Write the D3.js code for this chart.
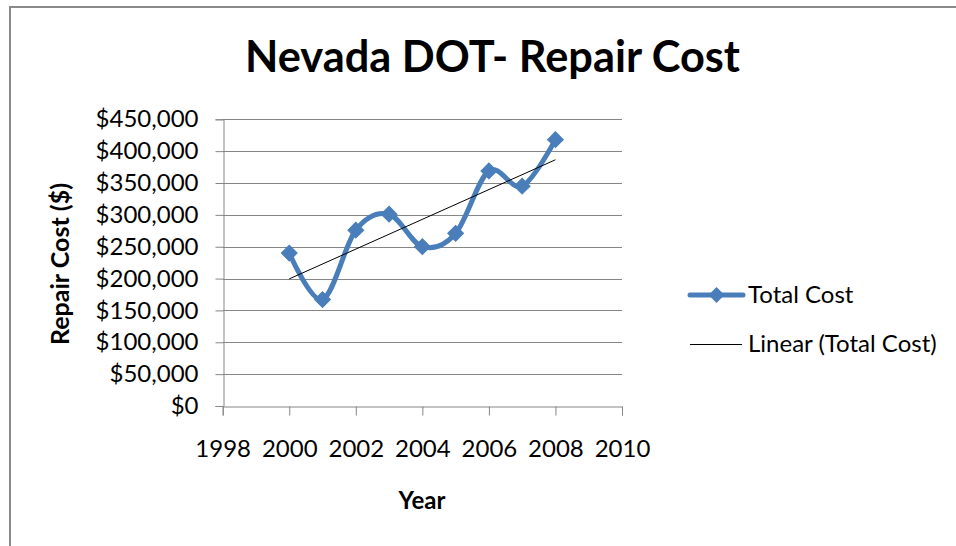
<!DOCTYPE html>
<html><head><meta charset="utf-8">
<script src="https://cdn.jsdelivr.net/npm/d3@7"></script>
<style>
html,body{margin:0;padding:0;background:#fff;}
svg{display:block;}
text{font-family:Lato,"Open Sans",sans-serif;fill:#000;}
</style></head>
<body>
<svg id="chart" width="956" height="546"></svg>
<script>
const years = [2000, 2001, 2002, 2003, 2004, 2005, 2006, 2007, 2008];
const totalCost = [240000, 167000, 276000, 301000, 250000, 271000, 369000, 345000, 418000];
const xTicks = [1998, 2000, 2002, 2004, 2006, 2008, 2010];
const yTicks = [0, 50000, 100000, 150000, 200000, 250000, 300000, 350000, 400000, 450000];
const titleText = "Nevada DOT- Repair Cost";
const xTitle = "Year";
const yTitle = "Repair Cost ($)";
const legendLabels = ["Total Cost", "Linear (Total Cost)"];

const svg = d3.select("#chart");
const blue = "#4A7EBB", grid = "#868686";

// outer frame
svg.append("path").attr("d", "M10,546 L10,7 L956,7")
  .attr("fill", "none").attr("stroke", "#8a8a8a").attr("stroke-width", 2);

const x = d3.scaleLinear().domain([1998, 2010]).range([222.7, 622]);
const y = d3.scaleLinear().domain([0, 450000]).range([406, 119.3]);

// gridlines
svg.append("g").selectAll("line").data(yTicks.filter(d => d > 0)).join("line")
  .attr("x1", x(1998)).attr("x2", x(2010))
  .attr("y1", d => Math.round(y(d)) + 0.5).attr("y2", d => Math.round(y(d)) + 0.5)
  .attr("stroke", grid).attr("stroke-width", 1);

const fmt = d => "$" + d3.format(",")(d);
// y axis
const ya = svg.append("g").attr("transform", `translate(${Math.round(x(1998)) + 0.5},0)`)
  .call(d3.axisLeft(y).tickValues(yTicks).tickFormat(fmt).tickSize(8).tickPadding(17));
ya.select(".domain").attr("stroke", grid);
ya.selectAll(".tick line").attr("stroke", grid);
ya.selectAll(".tick text").style("font-family", "Lato").style("font-size", "24px").attr("fill", "#000");

// x axis
const xa = svg.append("g").attr("transform", `translate(0,${Math.round(y(0)) + 0.5})`)
  .call(d3.axisBottom(x).tickValues(xTicks).tickFormat(d3.format("d")).tickSize(9).tickPadding(24));
xa.select(".domain").attr("stroke", grid);
xa.selectAll(".tick line").attr("stroke", grid);
xa.selectAll(".tick text").style("font-family", "Lato").style("font-size", "24px").attr("fill", "#000");

// trendline (least squares)
const mx = d3.mean(years), my = d3.mean(totalCost);
const slope = d3.sum(years, (d, i) => (d - mx) * (totalCost[i] - my)) / d3.sum(years, d => (d - mx) * (d - mx));
const icpt = my - slope * mx;
const x0 = years[0], x1 = years[years.length - 1];

// series line
const pts = years.map((d, i) => [d, totalCost[i]]);
const line = d3.line().x(d => x(d[0])).y(d => y(d[1])).curve(d3.curveCatmullRom.alpha(0));
svg.append("path").datum(pts).attr("d", line)
  .attr("fill", "none").attr("stroke", blue).attr("stroke-width", 5)
  .attr("stroke-linejoin", "round").attr("stroke-linecap", "round");

const marker = d3.symbol().type(d3.symbolSquare).size(125)();
svg.append("g").selectAll("path").data(pts).join("path")
  .attr("transform", d => `translate(${x(d[0])},${y(d[1])}) rotate(45)`)
  .attr("d", marker)
  .attr("fill", blue).attr("stroke", blue).attr("stroke-width", 1);

svg.append("line")
  .attr("x1", x(x0)).attr("y1", y(icpt + slope * x0))
  .attr("x2", x(x1)).attr("y2", y(icpt + slope * x1))
  .attr("stroke", "#000").attr("stroke-width", 1);

// title
svg.append("text").attr("x", 492.5).attr("y", 72).attr("text-anchor", "middle")
  .style("font-size", "43px").style("font-weight", "bold")
  .attr("textLength", 495).attr("lengthAdjust", "spacingAndGlyphs").text(titleText);

// axis titles
svg.append("text").attr("x", 422).attr("y", 509).attr("text-anchor", "middle")
  .style("font-size", "24px").style("font-weight", "bold").text(xTitle);
svg.append("text").attr("transform", "translate(69,264) rotate(-90)").attr("text-anchor", "middle")
  .style("font-size", "24px").style("font-weight", "bold")
  .attr("textLength", 162).attr("lengthAdjust", "spacingAndGlyphs").text(yTitle);

// legend
const lg = svg.append("g");
lg.append("line").attr("x1", 690).attr("x2", 743).attr("y1", 295).attr("y2", 295)
  .attr("stroke", blue).attr("stroke-width", 5).attr("stroke-linecap", "round");
lg.append("path").attr("transform", "translate(716.5,295) rotate(45)")
  .attr("d", marker).attr("fill", blue);
lg.append("text").attr("x", 748).attr("y", 295).attr("dy", "0.35em")
  .style("font-size", "24px").text(legendLabels[0]);
lg.append("line").attr("x1", 690).attr("x2", 742).attr("y1", 344.5).attr("y2", 344.5)
  .attr("stroke", "#000").attr("stroke-width", 1);
lg.append("text").attr("x", 748).attr("y", 344).attr("dy", "0.35em")
  .style("font-size", "24px").text(legendLabels[1]);
</script>
</body></html>
